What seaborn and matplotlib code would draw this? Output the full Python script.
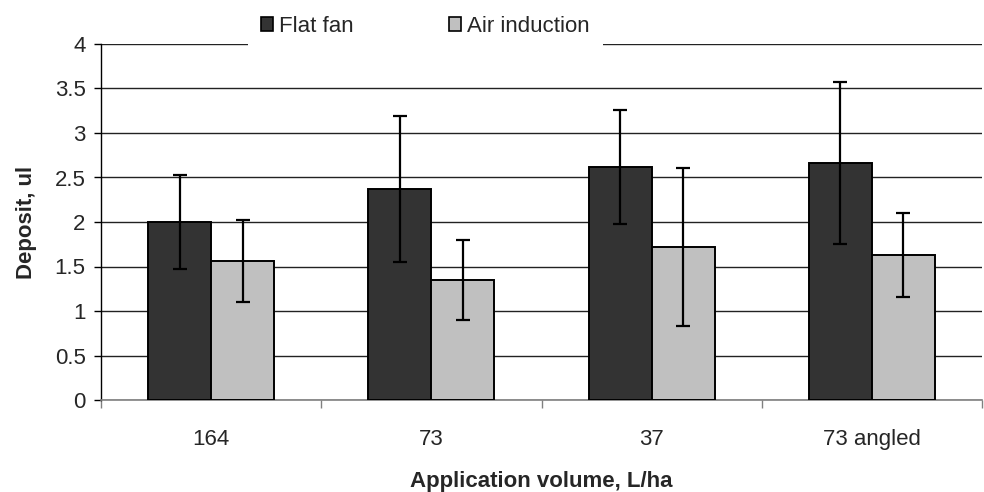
import numpy as np
import pandas as pd
import matplotlib
matplotlib.use("Agg")
import matplotlib.pyplot as plt
import seaborn as sns

# Mean deposit and standard deviation per application volume
volumes = ["164", "73", "37", "73 angled"]
flat_fan = [2.00, 2.37, 2.62, 2.66]
flat_fan_sd = [0.53, 0.82, 0.64, 0.91]
air_induction = [1.56, 1.35, 1.72, 1.63]
air_induction_sd = [0.46, 0.45, 0.89, 0.47]
nozzles = ["Flat fan", "Air induction"]
y_ticks = [0, 0.5, 1, 1.5, 2, 2.5, 3, 3.5, 4]

df = pd.DataFrame({
    "volume": volumes * 2,
    "deposit": flat_fan + air_induction,
    "sd": flat_fan_sd + air_induction_sd,
    "nozzle": [nozzles[0]] * 4 + [nozzles[1]] * 4,
})

sns.set_theme(style="white")
plt.rcParams["font.family"] = ["Liberation Sans", "DejaVu Sans"]
FS = 16

fig = plt.figure(figsize=(9.84, 4.92), dpi=100)
ax = fig.add_axes([101 / 984, 92 / 492, 881 / 984, 356 / 492])

sns.barplot(
    data=df, x="volume", y="deposit", hue="nozzle", order=volumes,
    hue_order=nozzles, palette=["#333333", "#c0c0c0"], width=0.573,
    gap=0, errorbar=None, edgecolor="black", linewidth=1.4,
    saturation=1, ax=ax, zorder=3,
)

# Error bars centred on each drawn bar
for container, sds in zip(ax.containers, [flat_fan_sd, air_induction_sd]):
    for patch, sd in zip(container.patches, sds):
        xc = patch.get_x() + patch.get_width() / 2
        ax.errorbar(xc, patch.get_height(), yerr=sd, fmt="none",
                    ecolor="black", elinewidth=1.6, capsize=5,
                    capthick=1.6, zorder=4)

ax.set_ylim(0, 4)
ax.set_xlim(-0.5, 3.5)
ax.set_yticks(y_ticks)
ax.set_yticklabels([f"{t:g}" for t in y_ticks], fontsize=FS)
ax.yaxis.grid(True, color="#222222", linewidth=1.0, zorder=0)
ax.set_axisbelow(True)
ax.tick_params(axis="y", which="major", direction="out", length=5,
               width=1, color="black", left=True, pad=6)

ax.set_xticks(range(len(volumes)))
ax.set_xticklabels(volumes, fontsize=FS)
ax.set_xticks(np.arange(-0.5, 3.6, 1), minor=True)
ax.tick_params(axis="x", which="major", length=0, pad=21)
ax.tick_params(axis="x", which="minor", direction="out", length=6,
               width=1, color="#808080", bottom=True)

for side in ["top", "right"]:
    ax.spines[side].set_visible(False)
ax.spines["left"].set_color("black")
ax.spines["left"].set_linewidth(1)
ax.spines["bottom"].set_color("#808080")
ax.spines["bottom"].set_linewidth(1.2)

ax.set_xlabel("Application volume, L/ha", fontsize=FS, fontweight="bold",
              labelpad=15)
ax.set_ylabel("Deposit, ul", fontsize=FS, fontweight="bold", labelpad=13)

leg = ax.legend(loc="center", bbox_to_anchor=(0.368, 1.05), ncol=2,
                frameon=True, fontsize=FS, handlelength=0.55,
                handleheight=0.55, handletextpad=0.25, columnspacing=4.3,
                borderpad=0.6, borderaxespad=0)
leg.get_frame().set_facecolor("white")
leg.get_frame().set_edgecolor("none")
leg.get_frame().set_alpha(1)
leg.set_zorder(10)
for h in leg.legend_handles:
    h.set_edgecolor("black")
    h.set_linewidth(1.2)

fig.savefig("out.png", dpi=100)
